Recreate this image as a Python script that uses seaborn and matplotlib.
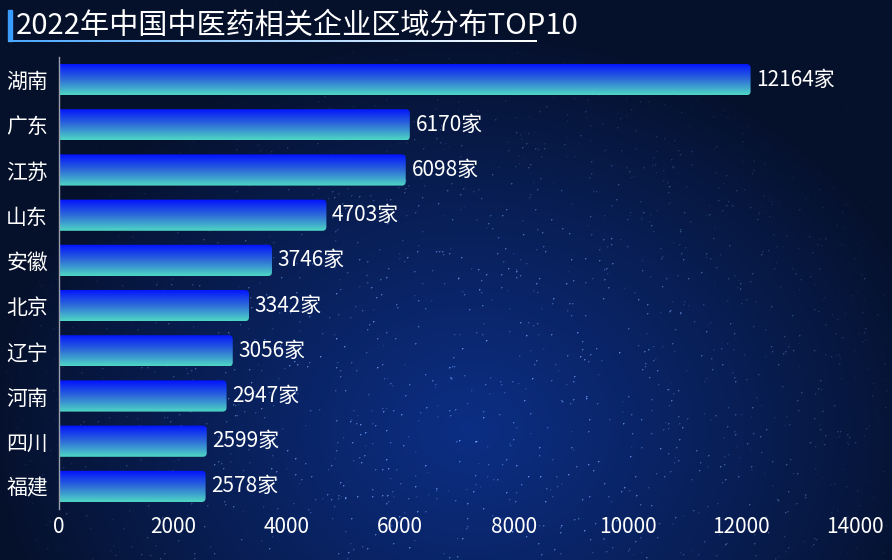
import numpy as np
import pandas as pd
import matplotlib
matplotlib.use("Agg")
import matplotlib.pyplot as plt
import seaborn as sns
from matplotlib.patches import FancyBboxPatch, Rectangle
from matplotlib.colors import LinearSegmentedColormap

provinces = ["湖南", "广东", "江苏", "山东", "安徽", "北京", "辽宁", "河南", "四川", "福建"]
counts = [12164, 6170, 6098, 4703, 3746, 3342, 3056, 2947, 2599, 2578]
unit = "家"
title = "2022年中国中医药相关企业区域分布TOP10"
xticks = [0, 2000, 4000, 6000, 8000, 10000, 12000, 14000]

sns.set_theme(style="white")
plt.rcParams['font.family'] = ['Noto Sans CJK SC', 'DejaVu Sans']

W, H = 892, 560
fig = plt.figure(figsize=(W / 100, H / 100), dpi=100)

# background (decorative starry-sky gradient)
bg = fig.add_axes([0, 0, 1, 1], zorder=0)
bg.set_axis_off()
yy, xx = np.mgrid[0:H, 0:W]
d = np.sqrt(((xx - 470) / 480.0) ** 2 + ((yy - 430) / 400.0) ** 2)
t = np.clip(1 - d, 0, 1)
c0 = np.array([5, 16, 42]) / 255.0
c1 = np.array([12, 46, 132]) / 255.0
img = c0[None, None, :] + (c1 - c0)[None, None, :] * (t[..., None] ** 0.9)
rng = np.random.default_rng(7)
ns = 2200
sx = rng.integers(1, W - 1, ns)
sy = rng.integers(1, H - 1, ns)
wgt = np.clip(t[sy, sx] * 1.5 + 0.08, 0, 1)
bright = rng.uniform(0.08, 0.45, ns) * wgt
star = np.array([0.7, 0.85, 1.0])
for x, y, b in zip(sx, sy, bright):
    img[y, x] += b * star
    img[y, x + 1] += 0.5 * b * star
    img[y + 1, x] += 0.5 * b * star
img = np.clip(img, 0, 1)
bg.imshow(img, extent=[0, W, H, 0], aspect='auto', interpolation='bilinear')

# title decorations (pixel coordinates on bg axes)
bg.add_patch(Rectangle((8, 10), 4, 31, color="#3a9bff", zorder=3))
ul = np.linspace(0, 1, 256)[None, :]
ucmap = LinearSegmentedColormap.from_list("ul", ["#4aa8ff", "#ffffff"])
bg.imshow(ul, extent=[8, 537, 42, 40], cmap=ucmap, aspect='auto', zorder=3)
bg.set_xlim(0, W)
bg.set_ylim(H, 0)
bg.text(16, 26, title, color="white", fontsize=21, va="center", ha="left", zorder=4)

# main axes
left, right, top, bottom = 59, 855, 57, 509
ax = fig.add_axes([left / W, 1 - bottom / H, (right - left) / W, (bottom - top) / H], zorder=1)
ax.patch.set_alpha(0)
df = pd.DataFrame({"province": provinces, "count": counts})
sns.barplot(data=df, x="count", y="province", orient="h", ax=ax, width=0.69,
            color="#0000ff")
ax.set_xlim(0, 14000)
ax.set_ylim(len(provinces) - 0.5, -0.5)

cmap = LinearSegmentedColormap.from_list("bar", ["#0010ff", "#2d6ad8", "#4fd8c4"])
grad = np.linspace(0, 1, 256)[:, None]
px_per_x = (right - left) / 14000.0
px_per_y = (bottom - top) / len(provinces)
for p in list(ax.patches):
    x0, y0 = p.get_x(), p.get_y()
    w, h = p.get_width(), p.get_height()
    p.set_visible(False)
    r_px = 4.0
    clip = FancyBboxPatch((x0 - 200, y0), w + 200, h,
                          boxstyle=f"round,pad=0,rounding_size={r_px / px_per_x}",
                          mutation_aspect=px_per_x / px_per_y,
                          transform=ax.transData, facecolor="none", edgecolor="none")
    ax.add_patch(clip)
    im = ax.imshow(grad, extent=[x0, x0 + w, y0 + h, y0], cmap=cmap, aspect='auto',
                   interpolation='bilinear', zorder=2)
    im.set_clip_path(clip)

ax.set_xlim(0, 14000)
ax.set_ylim(len(provinces) - 0.5, -0.5)
ax.set_aspect('auto')

for i, v in enumerate(counts):
    ax.text(v + 100, i, f"{v}{unit}", color="white", fontsize=15, va="center", ha="left", zorder=5)

ax.set_xticks(xticks)
ax.set_xticklabels([str(x) for x in xticks])
ax.set_xlabel("")
ax.set_ylabel("")
for s in ["top", "right", "bottom"]:
    ax.spines[s].set_visible(False)
ax.spines["left"].set_color("#9aa0aa")
ax.spines["left"].set_linewidth(1)
ax.tick_params(axis="x", colors="white", labelsize=15, length=0, pad=5)
ax.tick_params(axis="y", colors="white", labelsize=15, length=0, pad=8)
ax.set_yticks(np.arange(-0.5, len(provinces) + 0.5, 1), minor=True)
ax.tick_params(axis="y", which="minor", length=5, color="#9aa0aa", width=1)
for lab in ax.get_xticklabels() + ax.get_yticklabels():
    lab.set_color("white")

fig.savefig("out.png", dpi=100)
